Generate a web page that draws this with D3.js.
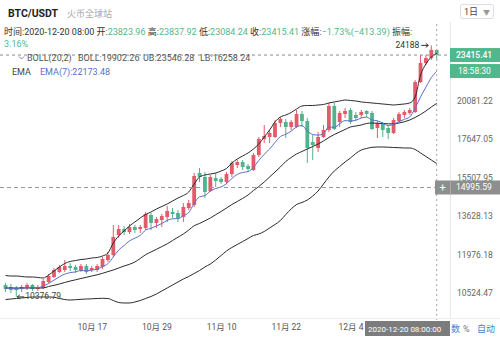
<!DOCTYPE html>
<html><head><meta charset="utf-8">
<script src="https://cdn.jsdelivr.net/npm/d3@7/dist/d3.min.js"></script>
<style>body{margin:0;background:#fff}svg{display:block;font-family:Roboto,'Noto Sans CJK SC',sans-serif}</style>
</head><body><svg id="c" width="500" height="338"></svg>
<script>
const dates = [
"2020-10-01","2020-10-02","2020-10-03","2020-10-04","2020-10-05","2020-10-06","2020-10-07","2020-10-08","2020-10-09","2020-10-10",
"2020-10-11","2020-10-12","2020-10-13","2020-10-14","2020-10-15","2020-10-16","2020-10-17","2020-10-18","2020-10-19","2020-10-20",
"2020-10-21","2020-10-22","2020-10-23","2020-10-24","2020-10-25","2020-10-26","2020-10-27","2020-10-28","2020-10-29","2020-10-30",
"2020-10-31","2020-11-01","2020-11-02","2020-11-03","2020-11-04","2020-11-05","2020-11-06","2020-11-07","2020-11-08","2020-11-09",
"2020-11-10","2020-11-11","2020-11-12","2020-11-13","2020-11-14","2020-11-15","2020-11-16","2020-11-17","2020-11-18","2020-11-19",
"2020-11-20","2020-11-21","2020-11-22","2020-11-23","2020-11-24","2020-11-25","2020-11-26","2020-11-27","2020-11-28","2020-11-29",
"2020-11-30","2020-12-01","2020-12-02","2020-12-03","2020-12-04","2020-12-05","2020-12-06","2020-12-07","2020-12-08","2020-12-09",
"2020-12-10","2020-12-11","2020-12-12","2020-12-13","2020-12-14","2020-12-15","2020-12-16","2020-12-17","2020-12-18","2020-12-19",
"2020-12-20"];
const open = [
10801.0,10729.0,10693.0,10657.0,10693.0,10801.0,10657.0,10693.0,10911.0,11096.0,
11284.3,11360.1,11514.3,11475.9,11360.1,11514.3,11360.1,11360.1,11475.9,11748.9,
11948.2,12780.0,13040.9,12910.0,13129.1,13040.9,13085.0,13669.6,13306.9,13441.6,
13578.4,13808.8,13762.4,13578.4,13995.8,14137.4,15745.3,15534.7,14819.7,15482.5,
15430.4,15275.6,15692.2,16174.3,16338.9,16120.3,15904.4,16727.8,17653.4,17772.8,
17772.8,18629.9,18692.7,18381.1,18381.1,19202.8,18755.6,17476.3,17127.0,17772.8,
18195.8,19726.8,18692.7,19202.8,19462.6,19137.8,19137.8,19397.6,19267.8,18319.4,
18629.9,18319.4,18014.0,18755.6,19137.8,19267.8,19332.6,21385.2,22798.0,23184.8,
23823.96];
const high = [
10874.4,10837.8,10765.0,10801.0,10874.4,10837.8,10801.0,11021.5,11208.5,11437.3,
11552.9,11748.9,11631.3,11552.9,11592.1,11592.1,11514.3,11592.1,11868.4,12070.0,
13217.3,13217.3,13173.2,13262.2,13217.3,13217.3,13808.8,13762.4,13578.4,13716.0,
14090.2,13995.8,13901.6,14233.4,14377.3,15745.3,16012.4,15798.2,15639.1,15745.3,
15534.7,15798.2,16393.8,16448.7,16448.7,16229.2,16841.4,17772.8,18504.5,18195.8,
18818.5,19010.2,18882.4,18818.5,19462.6,19397.6,18946.3,17892.2,18074.7,18504.5,
19927.6,19927.6,19397.6,19594.6,19594.6,19332.6,19462.6,19462.6,19397.6,18755.6,
18692.7,18442.8,18946.3,19332.6,19462.6,19594.6,21529.8,23419.3,23419.3,24188.00,
23837.92];
const low = [
10550.0,10514.6,10376.79,10550.0,10620.8,10585.4,10585.4,10657.0,10874.4,11058.7,
11246.4,11284.3,11322.2,11246.4,11284.3,11208.5,11284.3,11284.3,11398.7,11670.5,
11868.4,12652.2,12780.0,12823.4,12866.6,12866.6,12996.8,12996.8,13085.0,13129.1,
13351.8,13532.8,13351.8,13351.8,13901.6,14043.0,15275.6,14475.2,14770.1,15020.6,
15172.9,15172.9,15534.7,16012.4,15904.4,15851.3,15851.3,16616.2,17417.6,17417.6,
17712.9,18381.1,17712.9,18195.8,18319.4,18381.1,16284.0,16448.7,16897.9,17712.9,
18074.4,18195.8,18381.1,18946.3,18567.3,18755.6,18946.3,19010.2,18195.8,17712.9,
17772.8,17653.4,17952.9,18692.7,18946.3,19137.8,19267.8,21313.4,22644.4,23028.6,
23084.24];
const close = [
10657.0,10620.8,10620.8,10729.0,10801.0,10657.0,10729.0,10947.6,11133.3,11360.1,
11475.9,11514.3,11437.3,11360.1,11514.3,11284.3,11437.3,11514.3,11788.8,11948.2,
12694.8,13040.9,12910.0,13129.1,12996.8,13129.1,13716.0,13306.9,13487.2,13624.0,
13855.2,13716.0,13532.8,14043.0,14233.4,15586.9,15534.7,14770.1,15534.7,15326.9,
15275.6,15692.2,16284.0,16338.9,16066.4,15958.4,16727.8,17653.4,17832.5,18014.0,
18629.9,18882.4,18381.1,18692.7,19202.8,18755.6,17127.0,17300.2,17772.8,18195.8,
19726.8,18257.5,19267.8,19397.6,18692.7,18946.3,19332.6,19202.8,18257.5,18629.9,
18195.8,18014.0,18818.5,19202.8,19332.6,19462.6,21385.2,22798.0,23184.8,23828.80,
23415.41];
const ema7 = [
10693.0,10675.0,10660.6,10678.6,10707.4,10696.6,10703.8,10765.0,10856.1,10980.5,
11103.5,11204.7,11261.6,11288.1,11344.9,11329.8,11356.3,11394.8,11491.1,11603.9,
11868.4,12151.0,12336.5,12529.1,12643.5,12763.0,12996.8,13071.8,13173.2,13284.7,
13423.6,13496.3,13505.4,13637.7,13785.6,14214.2,14533.4,14591.9,14819.7,14945.1,
15025.6,15188.3,15456.5,15671.0,15771.7,15819.5,16039.3,16426.7,16767.6,17069.3,
17447.0,17796.7,17940.8,18123.0,18387.3,18479.8,18135.1,17922.6,17886.2,17965.0,
18387.3,18356.4,18579.9,18780.8,18755.7,18805.9,18939.9,19003.8,18812.2,18768.3,
18623.8,18467.5,18554.7,18711.7,18863.2,19010.2,19581.4,20333.5,21015.1,21697.9,
22173.48];
const bollUp = [
11151.9,11133.3,11133.3,11114.7,11096.0,11096.0,11077.4,11058.7,11170.6,11322.2,
11475.9,11611.7,11690.1,11728.9,11768.9,11788.8,11828.6,11848.5,11908.3,12029.4,
12441.0,12737.4,12953.4,13173.2,13351.8,13532.8,13692.8,13808.8,13948.8,14066.6,
14185.4,14329.3,14475.2,14596.4,14770.1,15172.9,15534.7,15639.1,15692.2,15745.3,
15851.3,15985.4,16284.0,16504.5,16672.0,16841.4,17069.3,17358.9,17772.8,18195.8,
18692.7,19010.2,19137.8,19300.1,19528.6,19726.8,19759.8,19759.8,19792.8,19826.4,
19927.6,19994.8,20061.4,20128.6,20094.5,20061.4,19994.8,19961.2,19927.6,19894.0,
19860.4,19826.4,19792.8,19826.4,19860.4,19927.6,20333.5,21895.1,22720.0,23263.1,
23546.28];
const bollMid = [
10693.0,10693.0,10693.0,10693.0,10693.0,10693.0,10693.0,10693.0,10747.0,10790.2,
10837.8,10892.7,10947.6,10991.7,11040.1,11084.8,11133.3,11178.2,11235.0,11299.5,
11360.1,11437.3,11514.3,11580.3,11670.5,11808.6,11960.4,12070.0,12179.8,12291.2,
12407.4,12545.9,12686.3,12823.4,12996.8,13186.4,13284.7,13405.7,13532.8,13683.5,
13832.0,13995.8,14161.4,14305.3,14455.4,14621.2,14844.5,15045.9,15275.6,15534.7,
15798.2,16066.4,16366.4,16588.3,16784.6,16926.4,17069.3,17213.6,17359.1,17534.9,
17743.0,17922.6,18074.4,18226.7,18381.1,18442.8,18504.5,18598.7,18629.9,18611.1,
18598.7,18579.9,18567.3,18629.9,18705.5,18818.5,18978.1,19170.3,19397.6,19660.7,
19902.26];
const bollLow = [
10287.0,10304.2,10321.6,10339.0,10356.6,10374.0,10374.0,10374.0,10374.0,10367.0,
10321.6,10287.0,10269.4,10279.8,10293.8,10304.2,10311.2,10321.6,10328.6,10321.6,
10252.3,10183.7,10166.6,10166.6,10200.8,10252.3,10321.6,10391.4,10479.0,10585.4,
10693.0,10801.0,10911.0,11021.5,11114.7,11227.5,11341.1,11475.9,11592.1,11748.9,
11928.3,12110.4,12254.1,12378.0,12504.0,12631.0,12758.7,12823.4,12931.7,13085.0,
13239.8,13419.2,13692.8,13948.8,14161.4,14257.3,14377.3,14572.4,14819.7,15172.9,
15534.7,15851.3,16093.3,16338.9,16560.3,16812.9,17011.6,17098.3,17167.6,17184.9,
17184.9,17173.3,17156.0,17144.5,17127.0,17127.0,17040.5,16841.4,16644.1,16448.7,
16258.24];
const yTicks = [10524.47, 11976.18, 13628.13, 15507.95, 17647.05, 20081.22];
const xTicks = ["2020-10-17","2020-10-29","2020-11-10","2020-11-22","2020-12-04"];
const crossValue = 14995.59;
const crossTime = "2020-12-20 08:00:00";
const clockText = "18:58:30";

const UP = '#e35b6b', DN = '#4fb48c', GREEN = '#52b78c';
const svg = d3.select('#c');
const x = d3.scalePoint().domain(dates).range([5.5, 436.7]);
const y = d3.scaleLog().domain([9929.8, 25474.5]).range([310, 30]);
const N = dates.length, L = N - 1;

// separators
svg.append('line').attr('x1',0).attr('x2',500).attr('y1',318.5).attr('y2',318.5).attr('stroke','#ececec');
svg.append('line').attr('x1',450.5).attr('x2',450.5).attr('y1',22).attr('y2',318).attr('stroke','#e8e8e8');

// candles
const g = svg.append('g');
dates.forEach((d,i)=>{
  const c = close[i] >= open[i] ? UP : DN;
  const cx = x(d);
  g.append('line').attr('x1',cx).attr('x2',cx).attr('y1',y(high[i])).attr('y2',y(low[i])).attr('stroke',c).attr('stroke-width',1);
  const y0 = y(Math.max(open[i],close[i])), y1 = y(Math.min(open[i],close[i]));
  g.append('rect').attr('x',cx-1.9).attr('width',3.8).attr('y',y0).attr('height',Math.max(1,y1-y0)).attr('fill',c);
});

// indicator lines
const mk = arr => d3.line().x((v,i)=>x(dates[i])).y(v=>y(v)).curve(d3.curveMonotoneX)(arr);
[bollUp,bollMid,bollLow].forEach(a=>svg.append('path').attr('d',mk(a)).attr('fill','none').attr('stroke','#2b2b2b').attr('stroke-width',1));
svg.append('path').attr('d',mk(ema7)).attr('fill','none').attr('stroke','#5d6ec8').attr('stroke-width',1);

// price line
const yLast = y(close[L]);
svg.append('line').attr('x1',0).attr('x2',450).attr('y1',yLast).attr('y2',yLast).attr('stroke','#8a8a8a').attr('stroke-dasharray','3,3');
// crosshair
const yc = y(crossValue);
svg.append('line').attr('x1',0).attr('x2',435).attr('y1',yc).attr('y2',yc).attr('stroke','#999').attr('stroke-dasharray','4,3');
svg.append('line').attr('x1',x(dates[L])).attr('x2',x(dates[L])).attr('y1',24).attr('y2',320).attr('stroke','#a5a5a5').attr('stroke-dasharray','2,3');

// max / min markers
const iMax = d3.maxIndex(high), iMin = d3.minIndex(low);
const xm = x(dates[iMax]), ym = y(high[iMax]);
svg.append('text').attr('x',xm-12).attr('y',ym+3).attr('text-anchor','end').attr('font-size',8.5).attr('fill','#333').text(d3.format('.0f')(high[iMax]));
svg.append('path').attr('d',`M${xm-10},${ym}H${xm-3}M${xm-5.5},${ym-2}L${xm-3},${ym}L${xm-5.5},${ym+2}`).attr('stroke','#333').attr('fill','none');
const xn = x(dates[iMin]), yn = y(low[iMin]);
svg.append('path').attr('d',`M${xn+1},${yn}H${xn+8}M${xn+3.5},${yn-2}L${xn+1},${yn}L${xn+3.5},${yn+2}`).attr('stroke','#333').attr('fill','none');
svg.append('text').attr('x',xn+9).attr('y',yn+2).attr('font-size',8.5).attr('fill','#444').text(d3.format('.2f')(low[iMin]));

// right axis
const ax = svg.append('g').attr('transform','translate(452,0)').call(d3.axisRight(y).tickValues(yTicks).tickSize(0).tickFormat(d3.format('.2f')));
ax.select('.domain').remove();
ax.selectAll('text').attr('font-size',8.5).attr('fill','#666').attr('font-family','Roboto,sans-serif').attr('x',5);

// last price boxes
svg.append('rect').attr('x',450).attr('y',yLast-7).attr('width',50).attr('height',14).attr('fill',GREEN);
svg.append('text').attr('x',456).attr('y',yLast+3).attr('font-size',8.5).attr('font-weight',500).attr('fill','#fff').text(d3.format('.2f')(close[L]));
svg.append('rect').attr('x',450).attr('y',yLast+9).attr('width',50).attr('height',14).attr('fill',GREEN);
svg.append('text').attr('x',458).attr('y',yLast+19).attr('font-size',8.5).attr('fill','#fff').text(clockText);
// crosshair box
svg.append('rect').attr('x',435).attr('y',yc-7).attr('width',65).attr('height',14).attr('fill','#8e8e8e');
svg.append('line').attr('x1',450.5).attr('x2',450.5).attr('y1',yc-7).attr('y2',yc+7).attr('stroke','#aaa');
svg.append('text').attr('x',442.5).attr('y',yc+4).attr('text-anchor','middle').attr('font-size',11).attr('fill','#fff').text('+');
svg.append('text').attr('x',456).attr('y',yc+3).attr('font-size',8.5).attr('fill','#fff').text(d3.format('.2f')(crossValue));

// x axis
const pd = d3.timeParse('%Y-%m-%d');
const xa = svg.append('g').attr('transform','translate(0,321)').call(d3.axisBottom(x).tickValues(xTicks).tickSize(0).tickFormat(s=>{const t=pd(s);return (t.getMonth()+1)+'月 '+t.getDate();}));
xa.select('.domain').remove();
xa.selectAll('text').attr('font-size',8.5).attr('fill','#555').attr('font-family',"Roboto,'Noto Sans CJK SC',sans-serif");

// bottom right controls
svg.append('text').attr('x',451).attr('y',332).attr('font-size',9).attr('fill','#3f7fd8').text('数');
svg.append('text').attr('x',463).attr('y',332).attr('font-size',9).attr('fill','#777').text('%');
svg.append('text').attr('x',477).attr('y',332).attr('font-size',9).attr('fill','#3f7fd8').text('自动');
svg.append('rect').attr('x',365).attr('y',321).attr('width',85).attr('height',15).attr('fill','#7c7c7c');
svg.append('text').attr('x',368).attr('y',331.5).attr('font-size',8).attr('fill','#fff').text(crossTime);

// header
svg.append('text').attr('x',8).attr('y',17).attr('font-size',10.5).attr('font-weight',700).attr('fill','#222').text('BTC/USDT');
svg.append('text').attr('x',67).attr('y',17).attr('font-size',9).attr('fill','#aaa').text('火币全球站');
svg.append('rect').attr('x',460.5).attr('y',4.5).attr('width',33).attr('height',14).attr('rx',2).attr('fill','#fff').attr('stroke','#ddd');
svg.append('text').attr('x',464).attr('y',15).attr('font-size',9).attr('fill','#444').text('1日');
svg.append('text').attr('x',483).attr('y',14.5).attr('font-size',7).attr('fill','#999').text('▼');

const f2 = d3.format('.2f');
const chg = close[L]-close[L-1], pct = chg/close[L-1]*100, amp = (high[L]-low[L])/close[L-1]*100;
const info = svg.append('text').attr('x',4).attr('y',35).attr('font-size',9).attr('fill','#333');
[['时间:'+crossTime.slice(0,16)+' ','#333'],['开:','#333'],[f2(open[L]),GREEN],[' 高:','#333'],[f2(high[L]),GREEN],[' 低:','#333'],[f2(low[L]),GREEN],
 [' 收:','#333'],[f2(close[L]),GREEN],[' 涨幅:','#333'],[f2(pct)+'%('+f2(chg)+')',GREEN],[' 振幅:','#333']]
 .forEach(([t,c])=>info.append('tspan').attr('fill',c).text(t));
svg.append('text').attr('x',4).attr('y',47).attr('font-size',9).attr('fill',GREEN).text(f2(amp)+'%');

svg.append('path').attr('d','M19,56.5L21.5,59L24,56.5').attr('fill','none').attr('stroke','#888');
const bl = svg.append('g').attr('font-size',9).attr('fill','#555');
bl.append('text').attr('x',27).attr('y',61).text('BOLL(20,2)');
bl.append('text').attr('x',78).attr('y',61).text('BOLL:'+f2(bollMid[L]));
bl.append('text').attr('x',143).attr('y',61).text('UB:'+f2(bollUp[L]));
bl.append('text').attr('x',200).attr('y',61).text('LB:'+f2(bollLow[L]));
svg.append('text').attr('x',12).attr('y',75).attr('font-size',9).attr('fill','#444').text('EMA');
svg.append('text').attr('x',40).attr('y',75).attr('font-size',9).attr('fill','#5d6ec8').text('EMA(7):'+f2(ema7[L]));
</script></body></html>
